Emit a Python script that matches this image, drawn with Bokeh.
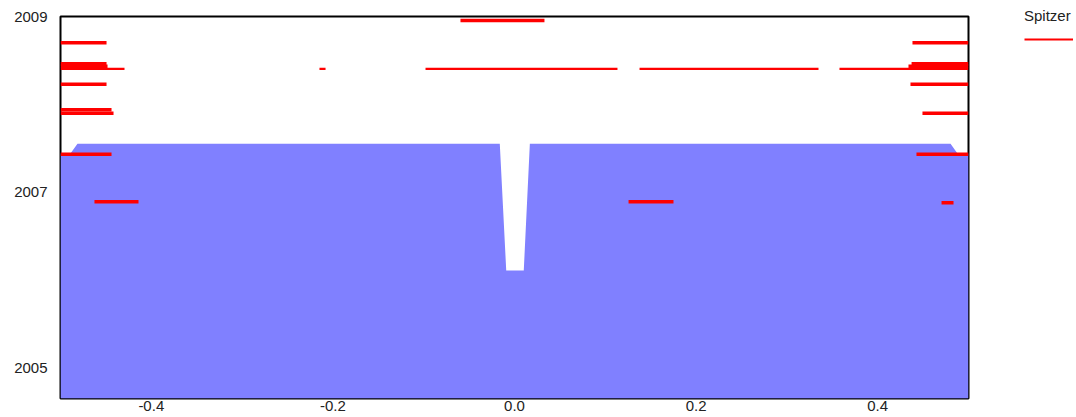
from bokeh.plotting import figure
from bokeh.models import Range1d, FixedTicker, Legend, LegendItem
from bokeh.embed import file_html
from bokeh.resources import INLINE

# ---- data ----
x_ticks = [-0.4, -0.2, 0.0, 0.2, 0.4]
x_tick_labels = ["-0.4", "-0.2", "0.0", "0.2", "0.4"]
y_ticks = [2005, 2007, 2009]
y_tick_labels = ["2005", "2007", "2009"]

# blue filled curve (top edge)
blue_x = [-0.5, -0.489, -0.4813, -0.0162, -0.0091, 0.0102, 0.0169, 0.4802, 0.4879, 0.5]
blue_y = [2007.44, 2007.44, 2007.55, 2007.55, 2006.107, 2006.107, 2007.55, 2007.55, 2007.44, 2007.44]

# Spitzer coverage, thick segments
thick_x0 = [-0.0595, -0.5, 0.4383, -0.5, -0.5, 0.4373, 0.4339, -0.5, 0.4361,
            -0.5, -0.5, 0.4493, -0.5, 0.4427, -0.4626, 0.1256, 0.4703]
thick_x1 = [0.0330, -0.4493, 0.5, -0.4493, -0.4482, 0.5, 0.5, -0.4493, 0.5,
            -0.4438, -0.4416, 0.5, -0.4438, 0.5, -0.4141, 0.1751, 0.4835]
thick_y = [2008.954, 2008.700, 2008.700, 2008.461, 2008.434, 2008.461, 2008.434, 2008.229, 2008.229,
           2007.937, 2007.899, 2007.899, 2007.432, 2007.432, 2006.890, 2006.890, 2006.878]

# Spitzer coverage, thin segments
thin_x0 = [-0.5, -0.2148, -0.0980, 0.1377, 0.3579]
thin_x1 = [-0.4295, -0.2081, 0.1134, 0.3348, 0.5]
thin_y = [2008.404, 2008.404, 2008.404, 2008.404, 2008.404]

x_min, x_max = -0.5, 0.5
y_min, y_max = 2004.65, 2009.0

FONT = "Liberation Sans"

p = figure(frame_width=908, frame_height=382,
           x_range=Range1d(x_min, x_max), y_range=Range1d(y_min, y_max),
           output_backend="svg", toolbar_location=None,
           min_border_left=60, min_border_right=100, min_border_top=16, min_border_bottom=19)

p.varea(x=blue_x, y1=[y_min] * len(blue_x), y2=blue_y, fill_color="#8080ff", fill_alpha=1.0)

r_thick = p.segment(x0=thick_x0, y0=thick_y, x1=thick_x1, y1=thick_y,
                    line_color="#ff0000", line_width=3.5, line_cap="butt")
r_thin = p.segment(x0=thin_x0, y0=thin_y, x1=thin_x1, y1=thin_y,
                   line_color="#ff0000", line_width=2.2, line_cap="butt")

p.xgrid.visible = False
p.ygrid.visible = False
p.outline_line_color = "black"
p.outline_line_width = 2
p.background_fill_color = "white"
p.border_fill_color = "white"

p.xaxis.ticker = FixedTicker(ticks=x_ticks)
p.xaxis.major_label_overrides = {t: l for t, l in zip(x_ticks, x_tick_labels)}
p.yaxis.ticker = FixedTicker(ticks=y_ticks)
p.yaxis.major_label_overrides = {t: l for t, l in zip(y_ticks, y_tick_labels)}
for ax in (p.xaxis, p.yaxis):
    ax.axis_line_color = None
    ax.major_tick_line_color = None
    ax.minor_tick_line_color = None
    ax.major_tick_out = 0
    ax.major_tick_in = 0
    ax.minor_tick_out = 0
    ax.minor_tick_in = 0
    ax.major_label_text_font = FONT
    ax.major_label_text_font_size = "15px"
    ax.major_label_text_color = "#222222"
p.xaxis.major_label_standoff = 2
p.yaxis.major_label_standoff = 13

legend = Legend(items=[LegendItem(label=" ", renderers=[r_thin])],
                location=(56, 355), title="Spitzer",
                title_text_font=FONT, title_text_font_size="15px", title_text_font_style="normal",
                title_text_color="#222222", title_standoff=11,
                label_text_font_size="1px", label_standoff=0,
                glyph_width=49, glyph_height=8, padding=0, margin=0, spacing=0,
                border_line_color=None, background_fill_alpha=0)
p.add_layout(legend, "right")

open("out.html", "w").write(file_html(p, INLINE))
